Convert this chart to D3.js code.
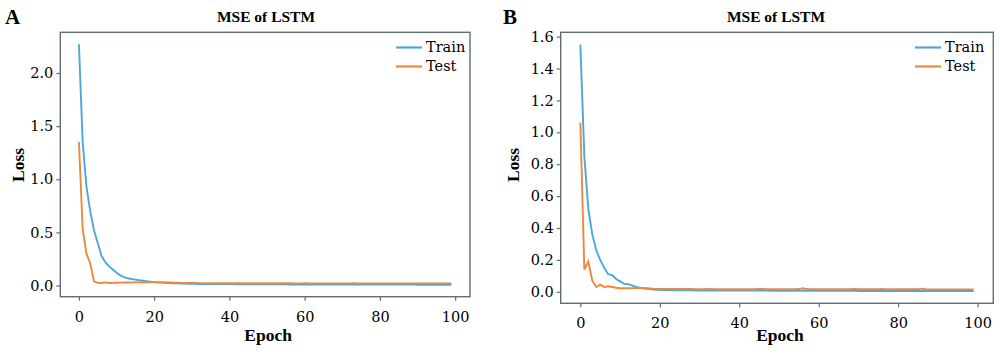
<!DOCTYPE html>
<html><head><meta charset="utf-8">
<script src="https://cdn.jsdelivr.net/npm/d3@7"></script>
<style>
html,body{margin:0;padding:0;background:#fff;}
svg{display:block;}
</style></head>
<body>
<script>
const panelLabels = ["A", "B"];
const chartTitle = "MSE of LSTM";
const seriesNames = ["Train", "Test"];
const xTicks = [0, 20, 40, 60, 80, 100];
const yTicksA = [0.0, 0.5, 1.0, 1.5, 2.0];
const yTicksB = [0.0, 0.2, 0.4, 0.6, 0.8, 1.0, 1.2, 1.4, 1.6];

const trainA = [
2.27,1.35,0.93,0.70,0.52,0.40,0.28,0.22,0.18,0.15,
0.12,0.095,0.08,0.068,0.062,0.056,0.05,0.045,0.04,0.036,
0.032,0.03,0.028,0.026,0.024,0.022,0.02,0.019,0.018,0.017,
0.016,0.016,0.015,0.015,0.015,0.014,0.014,0.014,0.013,0.013,
0.013,0.013,0.012,0.012,0.012,0.012,0.012,0.012,0.011,0.011,
0.011,0.011,0.011,0.011,0.011,0.011,0.010,0.010,0.010,0.010,
0.010,0.010,0.010,0.010,0.010,0.010,0.010,0.010,0.010,0.010,
0.009,0.009,0.009,0.009,0.009,0.009,0.009,0.009,0.009,0.009,
0.009,0.009,0.009,0.009,0.009,0.009,0.009,0.009,0.009,0.009,
0.008,0.008,0.008,0.008,0.008,0.008,0.008,0.008,0.008,0.008];
const testA = [
1.35,0.53,0.30,0.21,0.04,0.025,0.024,0.03,0.024,0.025,
0.026,0.027,0.028,0.028,0.029,0.03,0.03,0.031,0.031,0.032,
0.032,0.031,0.03,0.029,0.028,0.027,0.026,0.025,0.025,0.024,
0.024,0.024,0.023,0.023,0.023,0.023,0.022,0.022,0.022,0.022,
0.022,0.022,0.021,0.021,0.021,0.022,0.021,0.021,0.021,0.021,
0.021,0.021,0.022,0.021,0.021,0.021,0.021,0.02,0.02,0.02,
0.021,0.02,0.02,0.02,0.02,0.02,0.02,0.02,0.02,0.02,
0.02,0.02,0.02,0.021,0.02,0.02,0.02,0.02,0.02,0.02,
0.02,0.02,0.02,0.02,0.02,0.02,0.02,0.02,0.02,0.02,
0.02,0.02,0.02,0.02,0.02,0.02,0.02,0.02,0.02,0.02];
const trainB = [
1.55,0.85,0.52,0.36,0.26,0.20,0.15,0.11,0.105,0.08,
0.065,0.05,0.048,0.04,0.03,0.025,0.02,0.018,0.015,0.013,
0.012,0.011,0.011,0.010,0.010,0.009,0.009,0.009,0.009,0.008,
0.008,0.008,0.008,0.008,0.008,0.008,0.007,0.007,0.007,0.007,
0.007,0.007,0.007,0.007,0.007,0.007,0.007,0.007,0.006,0.006,
0.006,0.006,0.006,0.006,0.006,0.006,0.006,0.006,0.006,0.006,
0.006,0.006,0.006,0.006,0.006,0.006,0.006,0.006,0.006,0.006,
0.005,0.005,0.005,0.005,0.005,0.005,0.005,0.005,0.005,0.005,
0.005,0.005,0.005,0.005,0.005,0.005,0.005,0.005,0.005,0.005,
0.005,0.005,0.005,0.005,0.005,0.005,0.005,0.005,0.005,0.005];
const testB = [
1.06,0.14,0.19,0.07,0.03,0.045,0.03,0.035,0.03,0.025,
0.022,0.022,0.022,0.023,0.023,0.024,0.024,0.022,0.02,0.018,
0.018,0.017,0.017,0.017,0.018,0.018,0.017,0.017,0.017,0.016,
0.016,0.016,0.017,0.017,0.016,0.016,0.016,0.016,0.016,0.016,
0.016,0.016,0.016,0.016,0.016,0.017,0.017,0.016,0.016,0.016,
0.016,0.016,0.016,0.016,0.016,0.017,0.022,0.017,0.016,0.016,
0.016,0.016,0.016,0.016,0.016,0.016,0.016,0.016,0.016,0.017,
0.016,0.016,0.016,0.016,0.016,0.016,0.018,0.016,0.016,0.016,
0.016,0.016,0.016,0.016,0.016,0.016,0.02,0.016,0.015,0.015,
0.015,0.015,0.015,0.015,0.015,0.015,0.015,0.015,0.015,0.015];

const colors = {Train: "#4ea6dc", Test: "#f0883a"};
const frameColor = "#5f6f6f";

const W = 1000, H = 359;
const svg = d3.select("body").append("svg").attr("width", W).attr("height", H);

const panels = [
  {label: panelLabels[0], train: trainA, test: testA, yTicks: yTicksA,
   left: 60.3, right: 470, top: 32.3, bottom: 296.7,
   labelX: 5, titleX: 266, lossX: 24, epochY: 341, xTickY: 318, legX: 396},
  {label: panelLabels[1], train: trainB, test: testB, yTicks: yTicksB,
   left: 560.7, right: 993.3, top: 32.3, bottom: 303.3,
   labelX: 503, titleX: 776, lossX: 519, epochY: 341, xTickY: 324, legX: 915}
];

const tickFont = "'DejaVu Serif', serif";
const boldFont = "'Liberation Serif', 'Times New Roman', serif";

panels.forEach(p => {
  const epochs = d3.range(p.train.length);
  const allVals = p.train.concat(p.test);
  const ymin = d3.min(allVals), ymax = d3.max(allVals);
  const ypad = (ymax - ymin) * 0.05;
  const xmax = epochs.length - 1;
  const x = d3.scaleLinear().domain([-xmax*0.05, xmax*1.05]).range([p.left, p.right]);
  const y = d3.scaleLinear().domain([ymin - ypad, ymax + ypad]).range([p.bottom, p.top]);

  const g = svg.append("g");

  const line = d3.line().x((d, i) => x(i)).y(d => y(d));
  g.append("path").datum(p.train).attr("d", line)
    .attr("fill", "none").attr("stroke", colors.Train).attr("stroke-width", 1.9);
  g.append("path").datum(p.test).attr("d", line)
    .attr("fill", "none").attr("stroke", colors.Test).attr("stroke-width", 1.9);

  g.append("rect").attr("x", p.left).attr("y", p.top)
    .attr("width", p.right - p.left).attr("height", p.bottom - p.top)
    .attr("fill", "none").attr("stroke", frameColor).attr("stroke-width", 1.4);

  const xAxis = g.append("g").attr("transform", `translate(0,${p.bottom})`)
    .call(d3.axisBottom(x).tickValues(xTicks).tickSize(4).tickPadding(3).tickFormat(d3.format("d")));
  xAxis.select(".domain").remove();
  xAxis.selectAll("line").attr("stroke", frameColor).attr("stroke-width", 1.2);
  xAxis.selectAll("text").attr("font-family", tickFont).attr("font-size", 14.5).attr("fill", "#000")
    .attr("dy", null)
    .attr("y", p.xTickY - p.bottom).attr("dominant-baseline", "middle");

  const yAxis = g.append("g").attr("transform", `translate(${p.left},0)`)
    .call(d3.axisLeft(y).tickValues(p.yTicks).tickSize(4).tickPadding(3).tickFormat(d3.format(".1f")));
  yAxis.select(".domain").remove();
  yAxis.selectAll("line").attr("stroke", frameColor).attr("stroke-width", 1.2);
  yAxis.selectAll("text").attr("font-family", tickFont).attr("font-size", 14.5).attr("fill", "#000");

  svg.append("text").attr("x", p.titleX).attr("y", 22).attr("text-anchor", "middle")
    .attr("font-family", boldFont).attr("font-weight", "bold").attr("font-size", 15.5)
    .attr("fill", "#000").text(chartTitle);

  svg.append("text").attr("x", p.labelX).attr("y", 23.5)
    .attr("font-family", boldFont).attr("font-weight", "bold").attr("font-size", 21)
    .attr("fill", "#000").text(p.label);

  svg.append("text").attr("x", (p.left + p.right) / 2 + 3).attr("y", p.epochY).attr("text-anchor", "middle")
    .attr("font-family", boldFont).attr("font-weight", "bold").attr("font-size", 17.5)
    .attr("fill", "#000").text("Epoch");
  svg.append("text").attr("transform", `translate(${p.lossX},${165}) rotate(-90)`)
    .attr("text-anchor", "middle")
    .attr("font-family", boldFont).attr("font-weight", "bold").attr("font-size", 17.5)
    .attr("fill", "#000").text("Loss");

  seriesNames.forEach((name, i) => {
    const ly = 47.5 + i * 19;
    svg.append("line").attr("x1", p.legX).attr("x2", p.legX + 26).attr("y1", ly).attr("y2", ly)
      .attr("stroke", colors[name]).attr("stroke-width", 2.2);
    svg.append("text").attr("x", p.legX + 30).attr("y", ly).attr("dominant-baseline", "middle")
      .attr("font-family", tickFont).attr("font-size", 14.5).attr("fill", "#000").text(name);
  });
});
</script>
</body></html>
